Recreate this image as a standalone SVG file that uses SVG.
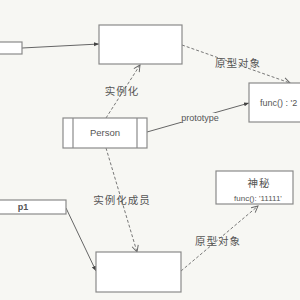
<svg xmlns="http://www.w3.org/2000/svg" width="300" height="300" viewBox="0 0 300 300">
<style>
.box{fill:#fff;stroke:#8a8a8a;stroke-width:1.2}
.t{font-family:"Liberation Sans","Noto Sans CJK SC",sans-serif;fill:#555;font-size:9px;text-anchor:middle}
.c{font-family:"Noto Sans CJK SC",sans-serif;fill:#555;font-size:10.5px;text-anchor:middle;letter-spacing:1px}
.solid{stroke:#666;stroke-width:1;fill:none}
.dash{stroke:#777;stroke-width:1;fill:none;stroke-dasharray:3 2}
</style>
<defs>
<marker id="fa" viewBox="0 0 6 6" refX="6" refY="3" markerWidth="5" markerHeight="5" orient="auto"><path d="M0,0.5 L6,3 L0,5.5 Z" fill="#444"/></marker>
<marker id="oa" viewBox="0 0 10 10" refX="9" refY="5" markerWidth="8" markerHeight="8" orient="auto"><path d="M1,1 L9,5 L1,9" fill="none" stroke="#666" stroke-width="1.2"/></marker>
</defs>
<rect width="300" height="300" fill="#f7f7f3"/>
<g id="connectors">
<line class="solid" x1="22" y1="48" x2="99" y2="44" marker-end="url(#fa)"/>
<line class="dash" x1="182" y1="45" x2="290" y2="83" marker-end="url(#oa)"/>
<text class="c" x="238" y="67">原型对象</text>
<line class="dash" x1="106" y1="118" x2="140" y2="65" marker-end="url(#oa)"/>
<text class="c" x="122" y="95">实例化</text>
<line class="solid" x1="147" y1="132" x2="249" y2="103" marker-end="url(#fa)"/>
<rect x="180" y="113" width="40" height="9" fill="#f7f7f3"/>
<text class="t" x="200" y="121">prototype</text>
<line class="dash" x1="106" y1="148" x2="137" y2="252" marker-end="url(#oa)"/>
<text class="c" x="122" y="204">实例化成员</text>
<line class="solid" x1="66" y1="208" x2="96" y2="271" marker-end="url(#fa)"/>
<line class="dash" x1="181" y1="271" x2="258" y2="206" marker-end="url(#oa)"/>
<text class="c" x="218" y="245">原型对象</text>
</g>
<g id="node-left-top"><rect class="box" x="-5" y="42" width="27" height="12"/></g>
<g id="node-top"><rect class="box" x="99" y="25" width="83" height="39"/></g>
<g id="node-proto"><rect class="box" x="249" y="83" width="60" height="39"/><text class="t" x="260" y="106" style="text-anchor:start">func() : '2</text></g>
<g id="node-person"><rect class="box" x="63" y="118" width="84" height="30"/><line class="box" x1="73" y1="118" x2="73" y2="148"/><line class="box" x1="137" y1="118" x2="137" y2="148"/><text class="t" x="105" y="136" style="font-size:9.5px">Person</text></g>
<g id="node-p1"><rect class="box" x="-5" y="200" width="71" height="14"/><text class="t" x="23" y="210" style="font-weight:bold">p1</text></g>
<g id="node-bottom"><rect class="box" x="96" y="252" width="85" height="40"/></g>
<g id="node-mystery"><rect class="box" x="216" y="171" width="77" height="33"/><text class="c" x="259" y="187">神秘</text><text class="t" x="258" y="201" style="font-size:8px">func(): '11111'</text></g>
</svg>
